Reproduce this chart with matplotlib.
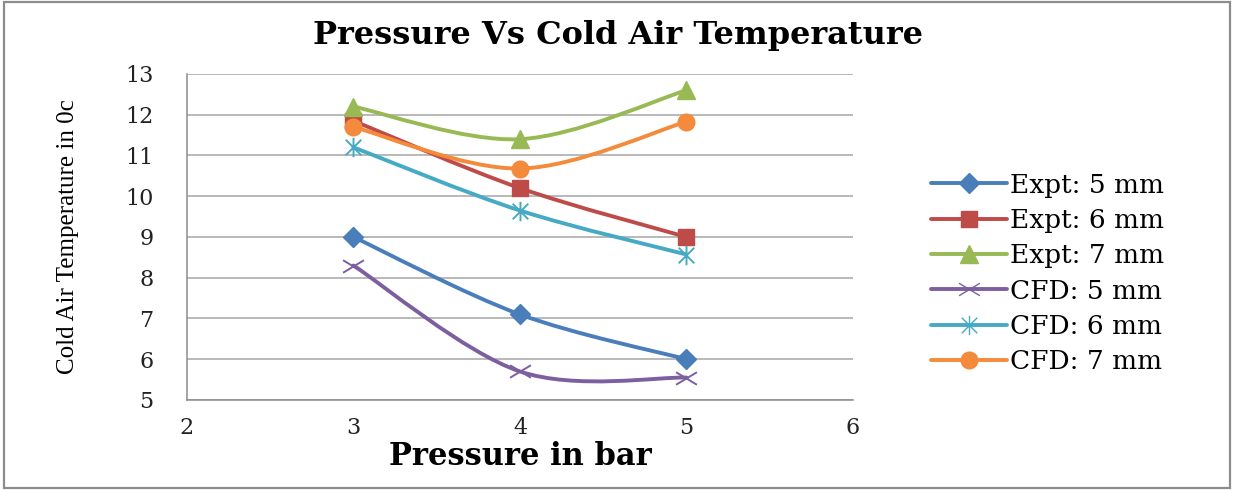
import numpy as np
import matplotlib
matplotlib.use("Agg")
import matplotlib.pyplot as plt
from matplotlib.path import Path
from matplotlib.patches import PathPatch, Rectangle
from matplotlib.lines import Line2D

pressure = [3, 4, 5]
expt_5mm = [9.0, 7.1, 6.0]
expt_6mm = [11.85, 10.2, 9.0]
expt_7mm = [12.2, 11.4, 12.6]
cfd_5mm = [8.3, 5.7, 5.55]
cfd_6mm = [11.2, 9.65, 8.57]
cfd_7mm = [11.7, 10.68, 11.83]
labels = ["Expt: 5 mm", "Expt: 6 mm", "Expt: 7 mm", "CFD: 5 mm", "CFD: 6 mm", "CFD: 7 mm"]
x_ticks = [2, 3, 4, 5, 6]
y_ticks = [5, 6, 7, 8, 9, 10, 11, 12, 13]

colors = ["#4A7EBB", "#BE4B48", "#98B954", "#7D5FA0", "#46AAC5", "#F38A3C"]

star = Path([(-1, -1), (1, 1), (-1, 1), (1, -1), (0, -1.25), (0, 1.25)],
            [Path.MOVETO, Path.LINETO, Path.MOVETO, Path.LINETO, Path.MOVETO, Path.LINETO])
xmark = Path([(-1, -0.6), (1, 0.6), (-1, 0.6), (1, -0.6)],
             [Path.MOVETO, Path.LINETO, Path.MOVETO, Path.LINETO])
markers = [("D", 10, True), ("s", 12, True), ("^", 13, True),
           (xmark, 15, False), (star, 14, False), ("o", 12, True)]

plt.rcParams['font.family'] = ['DejaVu Serif']

fig = plt.figure(figsize=(12.34, 4.90), dpi=100)
fig.patches.append(Rectangle((0.003, 0.005), 0.994, 0.99, transform=fig.transFigure,
                             fill=False, edgecolor="#8c8c8c", linewidth=1.6))
ax = fig.add_axes([0.1515, 0.1837, 0.5397, 0.6653])


def smooth_path(xs, ys):
    pts = list(zip(xs, ys))
    n = len(pts)
    verts = [pts[0]]
    codes = [Path.MOVETO]
    for i in range(n - 1):
        p0 = pts[i - 1] if i > 0 else pts[i]
        p1 = pts[i]
        p2 = pts[i + 1]
        p3 = pts[i + 2] if i + 2 < n else pts[i + 1]
        c1 = (p1[0] + (p2[0] - p0[0]) / 6, p1[1] + (p2[1] - p0[1]) / 6)
        c2 = (p2[0] - (p3[0] - p1[0]) / 6, p2[1] - (p3[1] - p1[1]) / 6)
        verts += [c1, c2, p2]
        codes += [Path.CURVE4] * 3
    return Path(verts, codes)


series = [expt_5mm, expt_6mm, expt_7mm, cfd_5mm, cfd_6mm, cfd_7mm]
handles = []
for ys, c, (m, ms, filled), lab in zip(series, colors, markers, labels):
    ax.add_patch(PathPatch(smooth_path(pressure, ys), facecolor="none", edgecolor=c,
                           linewidth=2.8, zorder=3, capstyle="round"))
    if filled:
        ax.plot(pressure, ys, linestyle="none", marker=m, markersize=ms, color=c,
                markeredgecolor=c, zorder=4)
        h = Line2D([], [], color=c, linewidth=2.8, marker=m, markersize=ms,
                   markeredgecolor=c, solid_capstyle="round")
    else:
        ax.plot(pressure, ys, linestyle="none", marker=m, markersize=ms,
                markerfacecolor="none", markeredgecolor=c, markeredgewidth=1.4, zorder=4)
        h = Line2D([], [], color=c, linewidth=2.8, marker=m, markersize=ms,
                   markerfacecolor="none", markeredgecolor=c, markeredgewidth=1.0,
                   solid_capstyle="round")
    handles.append(h)

ax.set_xlim(2, 6)
ax.set_ylim(5, 13)
ax.set_xticks(x_ticks)
ax.set_yticks(y_ticks)
ax.tick_params(length=0, labelsize=16, colors="#222222")
ax.tick_params(axis="y", pad=24)
ax.tick_params(axis="x", pad=12)
ax.grid(axis="y", color="#a6a6a6", linewidth=1.1)
ax.set_axisbelow(True)
for s in ["top", "right"]:
    ax.spines[s].set_visible(False)
for s in ["left", "bottom"]:
    ax.spines[s].set_color("#8c8c8c")
    ax.spines[s].set_linewidth(1.1)

ax.set_xlabel("Pressure in bar", fontsize=22, fontweight="bold", labelpad=2)
ax.set_ylabel("Cold Air Temperature in 0c", fontsize=18,
              family=['Liberation Serif', 'DejaVu Serif'])
ax.yaxis.set_label_coords(-0.162, 0.5)
fig.text(0.5008, 0.928, "Pressure Vs Cold Air Temperature", fontsize=23, fontweight="bold",
         ha="center", va="center")

ax.legend(handles=handles, labels=labels, loc="center left",
          bbox_to_anchor=(0.735, 0.442), bbox_transform=fig.transFigure,
          frameon=False, fontsize=19, handlelength=2.9, handletextpad=0.1,
          labelspacing=0.39)

fig.savefig("out.png", dpi=100)
